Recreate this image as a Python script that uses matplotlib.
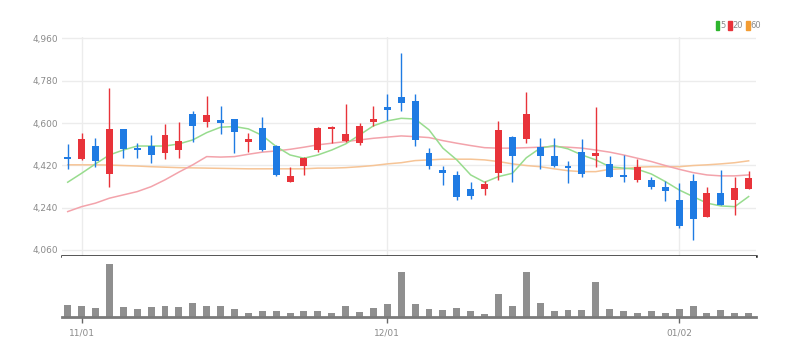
import numpy as np
import matplotlib.pyplot as plt
from matplotlib.patches import Rectangle

# daily OHLC, 50 sessions
opens = [4455, 4447, 4504, 4383, 4574, 4494, 4504, 4471, 4483, 4639,
         4606, 4613, 4617, 4521, 4580, 4500, 4351, 4417, 4483, 4576,
         4525, 4514, 4606, 4667, 4710, 4694, 4471, 4400, 4379, 4318,
         4320, 4386, 4540, 4531, 4500, 4461, 4419, 4478, 4460, 4426,
         4379, 4358, 4358, 4327, 4273, 4355, 4202, 4304, 4273, 4320]
closes = [4445, 4531, 4440, 4574, 4490, 4486, 4464, 4548, 4524, 4589,
          4634, 4602, 4563, 4531, 4483, 4379, 4376, 4450, 4578, 4585,
          4554, 4589, 4616, 4656, 4687, 4528, 4417, 4389, 4284, 4290,
          4341, 4571, 4461, 4639, 4461, 4417, 4408, 4383, 4471, 4372,
          4369, 4412, 4329, 4311, 4162, 4192, 4301, 4252, 4323, 4368]
highs = [4510, 4557, 4538, 4751, 4576, 4517, 4548, 4595, 4603, 4649,
         4717, 4673, 4619, 4559, 4627, 4507, 4414, 4457, 4583, 4589,
         4681, 4599, 4673, 4724, 4900, 4724, 4493, 4417, 4397, 4351,
         4355, 4610, 4545, 4734, 4538, 4538, 4440, 4531, 4667, 4460,
         4464, 4446, 4372, 4355, 4344, 4382, 4329, 4400, 4372, 4397]
lows = [4405, 4443, 4414, 4329, 4450, 4450, 4429, 4446, 4453, 4521,
        4585, 4554, 4474, 4478, 4480, 4376, 4350, 4379, 4478, 4517,
        4521, 4507, 4588, 4613, 4649, 4503, 4403, 4337, 4273, 4276,
        4294, 4358, 4351, 4517, 4403, 4414, 4344, 4372, 4414, 4369,
        4351, 4351, 4320, 4266, 4152, 4103, 4200, 4249, 4209, 4318]
volume = [123, 110, 93, 527, 100, 77, 100, 110, 100, 143,
          110, 110, 77, 40, 60, 60, 43, 57, 60, 43,
          110, 47, 90, 127, 450, 127, 77, 73, 90, 60,
          27, 227, 110, 450, 140, 60, 73, 73, 350, 77,
          60, 43, 57, 40, 83, 110, 43, 73, 43, 43]

# moving averages as drawn
ma5 = [4348, 4386, 4426, 4464, 4485, 4502, 4502, 4502, 4511, 4528,
       4559, 4582, 4585, 4575, 4547, 4500, 4464, 4450, 4464, 4485,
       4511, 4549, 4588, 4609, 4620, 4617, 4571, 4493, 4443, 4379,
       4348, 4372, 4386, 4452, 4493, 4504, 4490, 4464, 4443, 4414,
       4408, 4403, 4383, 4351, 4315, 4287, 4259, 4247, 4244, 4287]
ma20 = [4223, 4244, 4259, 4280, 4294, 4308, 4329, 4358, 4391, 4422,
        4457, 4455, 4457, 4467, 4476, 4481, 4488, 4497, 4507, 4514,
        4521, 4528, 4535, 4540, 4545, 4542, 4538, 4525, 4514, 4504,
        4495, 4493, 4493, 4495, 4497, 4500, 4497, 4493, 4485, 4476,
        4464, 4450, 4436, 4419, 4403, 4389, 4379, 4375, 4375, 4379]
ma60 = [4422, 4422, 4422, 4421, 4419, 4417, 4414, 4412, 4410, 4409,
        4408, 4407, 4406, 4405, 4405, 4405, 4405, 4405, 4408, 4408,
        4410, 4414, 4419, 4426, 4431, 4440, 4443, 4446, 4446, 4446,
        4443, 4436, 4426, 4419, 4414, 4405, 4397, 4393, 4393, 4403,
        4405, 4412, 4414, 4414, 4414, 4419, 4422, 4426, 4431, 4439]

date_pos = [1, 23, 44]
date_labels = ['11/01', '12/01', '01/02']
yticks = [4060, 4240, 4420, 4600, 4780, 4960]

up_col = '#e8333a'
down_col = '#1f7be3'
label_col = '#8a8a8a'

x = np.arange(len(opens))
o = np.array(opens); c = np.array(closes)
cols = [up_col if cc >= oo else down_col for oo, cc in zip(o, c)]
body_bot = np.minimum(o, c)
body_h = np.maximum(np.abs(c - o), 7)

fig = plt.figure(figsize=(7.99, 3.56), dpi=100)
ax = fig.add_axes([62/799, 1-256/356, 694/799, 219/356])
axv = fig.add_axes([62/799, 1-317/356, 694/799, 61/356])

# price panel
for t in yticks:
    ax.axhline(t, color='#ececec', lw=1, zorder=0)
for p in date_pos:
    ax.axvline(p, color='#ececec', lw=1, zorder=0)
ax.plot(x, ma60, color='#f6c496', lw=1.1, zorder=1)
ax.plot(x, ma20, color='#f3a3ab', lw=1.1, zorder=1)
ax.plot(x, ma5, color='#98dc8e', lw=1.1, zorder=1)
ax.vlines(x, lows, highs, colors=cols, lw=1, zorder=2)
ax.bar(x, body_h, bottom=body_bot, width=0.5, color=cols, zorder=3)

ax.set_xlim(-0.41, 49.53)
ax.set_ylim(4034, 4966)
ax.set_yticks(yticks)
ax.set_yticklabels([f'{t:,}' for t in yticks], family=['Liberation Sans Narrow', 'DejaVu Sans'],
                   fontsize=6.5, color=label_col)
ax.tick_params(axis='y', length=0, pad=3)
ax.set_xticks([])
for s in ['top', 'right', 'left']:
    ax.spines[s].set_visible(False)
ax.spines['bottom'].set_color('#222222')
ax.spines['bottom'].set_linewidth(1.8)

# volume panel
axv.bar(x, volume, width=0.5, color='#8f8f8f')
axv.set_xlim(-0.41, 49.53)
axv.set_ylim(0, 610)
axv.set_yticks([])
axv.set_xticks(date_pos)
axv.set_xticklabels(date_labels, family=['Liberation Sans Narrow', 'DejaVu Sans'],
                    fontsize=6.5, color=label_col)
axv.tick_params(axis='x', length=4, width=1, color='#666666', pad=4)
for s in ['top', 'right', 'left']:
    axv.spines[s].set_visible(False)
axv.spines['bottom'].set_color('#7a7a7a')
axv.spines['bottom'].set_linewidth(2)

# legend
leg = [('5', '#2db52d'), ('20', '#e8333a'), ('60', '#f39c32')]
lx = 715.5
for txt, col in leg:
    fig.patches.append(Rectangle((lx/799, 1-29.5/356), 3.5/799, 8/356,
                                 transform=fig.transFigure, color=col))
    fig.text((lx+4.5)/799, 1-25.5/356, txt, fontsize=6, color=label_col, va='center',
             family=['Liberation Sans Narrow', 'DejaVu Sans'])
    lx += 5.5 + 5.2*len(txt) + 2

fig.savefig('out.png', dpi=100, facecolor='white')
